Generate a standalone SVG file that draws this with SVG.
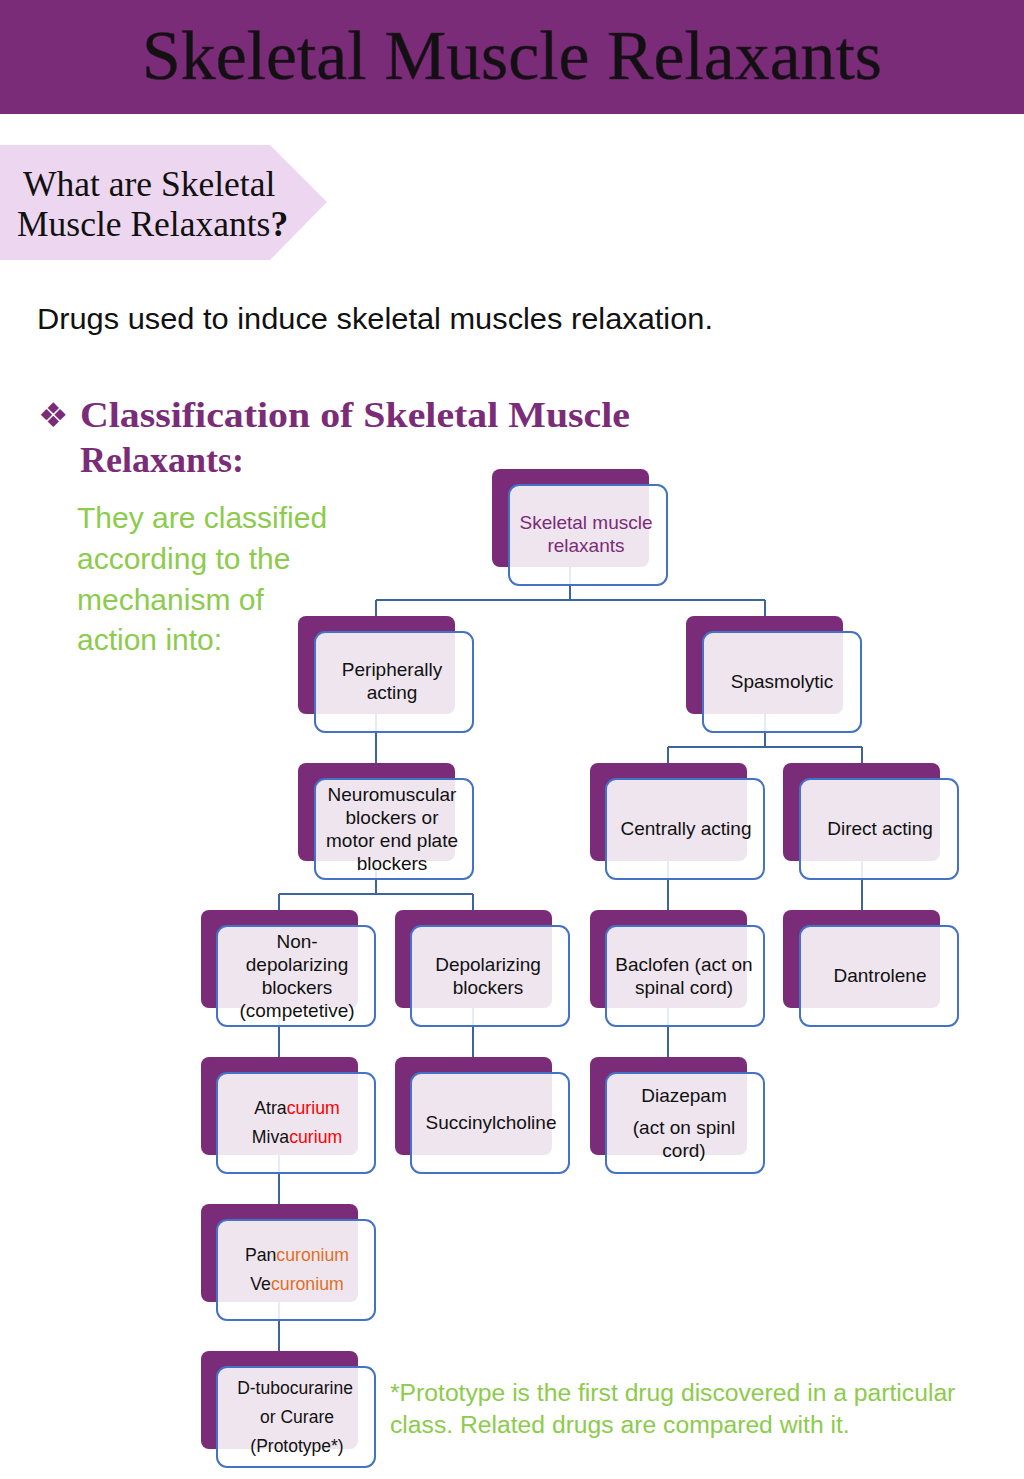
<svg xmlns="http://www.w3.org/2000/svg" width="1024" height="1479" viewBox="0 0 1024 1479">
<style>
.back{fill:#7B2C78}
.front{fill:#ffffff;fill-opacity:0.88;stroke:#4472C4;stroke-width:2}
.conn{stroke:#3E64A0;stroke-width:2;fill:none}
.nt{font-family:"Liberation Sans",Arial,sans-serif;font-size:19px;fill:#111;text-anchor:middle}
.red{fill:#FF0000}
.org{fill:#E0701E}
.green{font-family:"Liberation Sans",Arial,sans-serif;fill:#8CCB4C}
</style>
<rect x="0" y="0" width="1024" height="114" fill="#7B2C78"/>
<text x="512" y="79" font-family="Liberation Serif,DejaVu Serif,serif" font-size="70" fill="#111" stroke="#3a1038" stroke-width="0.6" text-anchor="middle" textLength="740" lengthAdjust="spacingAndGlyphs">Skeletal Muscle Relaxants</text>

<polygon points="0,145 270,145 327,202 270,260 0,260" fill="#EDD6EF"/>
<text font-family="Liberation Serif,DejaVu Serif,serif" font-size="35.5" fill="#111"><tspan x="23" y="196">What are Skeletal</tspan><tspan x="17" y="236">Muscle Relaxants<tspan font-weight="bold">?</tspan></tspan></text>

<text x="37" y="329" font-family="Liberation Sans,Arial,sans-serif" font-size="29" fill="#111" textLength="676" lengthAdjust="spacingAndGlyphs">Drugs used to induce skeletal muscles relaxation.</text>

<text x="38" y="427" font-family="DejaVu Sans,sans-serif" font-size="34" fill="#7B2C78">❖</text>
<text font-family="Liberation Serif,DejaVu Serif,serif" font-weight="bold" font-size="36" fill="#7B2C78"><tspan x="80" y="427" textLength="550" lengthAdjust="spacingAndGlyphs">Classification of Skeletal Muscle</tspan><tspan x="80" y="472">Relaxants:</tspan></text>

<text class="green" font-size="30"><tspan x="77" y="528">They are classified</tspan><tspan x="77" y="569">according to the</tspan><tspan x="77" y="610">mechanism of</tspan><tspan x="77" y="650">action into:</tspan></text>

<g id="connectors">
<path class="conn" d="M570,518 V600 M376,600 H765 M376,600 V665 M765,600 V665"/>
<path class="conn" d="M376,665 V812"/>
<path class="conn" d="M765,665 V747 M668,747 H862 M668,747 V812 M862,747 V812"/>
<path class="conn" d="M376,812 V894 M279,894 H473 M279,894 V959 M473,894 V959"/>
<path class="conn" d="M279,959 V1106 M473,959 V1106"/>
<path class="conn" d="M668,812 V959 M668,959 V1106 M862,812 V959"/>
<path class="conn" d="M279,1106 V1253 M279,1253 V1400"/>
</g>

<g id="n-root"><rect class="back" x="492" y="469" width="157" height="98" rx="8"/><rect class="front" x="509" y="485" width="158" height="100" rx="10"/><text class="nt" style="fill:#7B2C78"><tspan x="586" y="529">Skeletal muscle</tspan><tspan x="586" y="552">relaxants</tspan></text></g>

<g id="n-peripheral"><rect class="back" x="298" y="616" width="157" height="98" rx="8"/><rect class="front" x="315" y="632" width="158" height="100" rx="10"/><text class="nt"><tspan x="392" y="676">Peripherally</tspan><tspan x="392" y="699">acting</tspan></text></g>

<g id="n-spasmolytic"><rect class="back" x="686" y="616" width="157" height="98" rx="8"/><rect class="front" x="703" y="632" width="158" height="100" rx="10"/><text class="nt" x="782" y="688">Spasmolytic</text></g>

<g id="n-neuromuscular"><rect class="back" x="298" y="763" width="157" height="98" rx="8"/><rect class="front" x="315" y="779" width="158" height="100" rx="10"/><text class="nt"><tspan x="392" y="801">Neuromuscular</tspan><tspan x="392" y="824">blockers or</tspan><tspan x="392" y="847">motor end plate</tspan><tspan x="392" y="870">blockers</tspan></text></g>

<g id="n-central"><rect class="back" x="590" y="763" width="157" height="98" rx="8"/><rect class="front" x="606" y="779" width="158" height="100" rx="10"/><text class="nt" x="686" y="835">Centrally acting</text></g>

<g id="n-direct"><rect class="back" x="783" y="763" width="157" height="98" rx="8"/><rect class="front" x="800" y="779" width="158" height="100" rx="10"/><text class="nt" x="880" y="835">Direct acting</text></g>

<g id="n-nondep"><rect class="back" x="201" y="910" width="157" height="98" rx="8"/><rect class="front" x="217" y="926" width="158" height="100" rx="10"/><text class="nt"><tspan x="297" y="948">Non-</tspan><tspan x="297" y="971">depolarizing</tspan><tspan x="297" y="994">blockers</tspan><tspan x="297" y="1017">(competetive)</tspan></text></g>

<g id="n-depol"><rect class="back" x="395" y="910" width="157" height="98" rx="8"/><rect class="front" x="411" y="926" width="158" height="100" rx="10"/><text class="nt"><tspan x="488" y="971">Depolarizing</tspan><tspan x="488" y="994">blockers</tspan></text></g>

<g id="n-baclofen"><rect class="back" x="590" y="910" width="157" height="98" rx="8"/><rect class="front" x="606" y="926" width="158" height="100" rx="10"/><text class="nt"><tspan x="684" y="971">Baclofen (act on</tspan><tspan x="684" y="994">spinal cord)</tspan></text></g>

<g id="n-dantrolene"><rect class="back" x="783" y="910" width="157" height="98" rx="8"/><rect class="front" x="800" y="926" width="158" height="100" rx="10"/><text class="nt" x="880" y="982">Dantrolene</text></g>

<g id="n-atracurium"><rect class="back" x="201" y="1057" width="157" height="98" rx="8"/><rect class="front" x="217" y="1073" width="158" height="100" rx="10"/><text class="nt" style="font-size:17.7px"><tspan x="297" y="1114">Atra<tspan class="red">curium</tspan></tspan><tspan x="297" y="1143">Miva<tspan class="red">curium</tspan></tspan></text></g>

<g id="n-succinylcholine"><rect class="back" x="395" y="1057" width="157" height="98" rx="8"/><rect class="front" x="411" y="1073" width="158" height="100" rx="10"/><text class="nt" x="491" y="1129">Succinylcholine</text></g>

<g id="n-diazepam"><rect class="back" x="590" y="1057" width="157" height="98" rx="8"/><rect class="front" x="606" y="1073" width="158" height="100" rx="10"/><text class="nt"><tspan x="684" y="1102">Diazepam</tspan><tspan x="684" y="1134">(act on spinl</tspan><tspan x="684" y="1157">cord)</tspan></text></g>

<g id="n-pancuronium"><rect class="back" x="201" y="1204" width="157" height="98" rx="8"/><rect class="front" x="217" y="1220" width="158" height="100" rx="10"/><text class="nt" style="font-size:17.7px"><tspan x="297" y="1261">Pan<tspan class="org">curonium</tspan></tspan><tspan x="297" y="1290">Ve<tspan class="org">curonium</tspan></tspan></text></g>

<g id="n-dtubocurarine"><rect class="back" x="201" y="1351" width="157" height="98" rx="8"/><rect class="front" x="217" y="1367" width="158" height="100" rx="10"/><text class="nt" style="font-size:17.5px"><tspan x="295" y="1394">D-tubocurarine</tspan><tspan x="297" y="1423">or Curare</tspan><tspan x="297" y="1452">(Prototype*)</tspan></text></g>

<text class="green" font-size="24.7"><tspan x="390" y="1401">*Prototype is the first drug discovered in a particular</tspan><tspan x="390" y="1433">class. Related drugs are compared with it.</tspan></text>
</svg>
